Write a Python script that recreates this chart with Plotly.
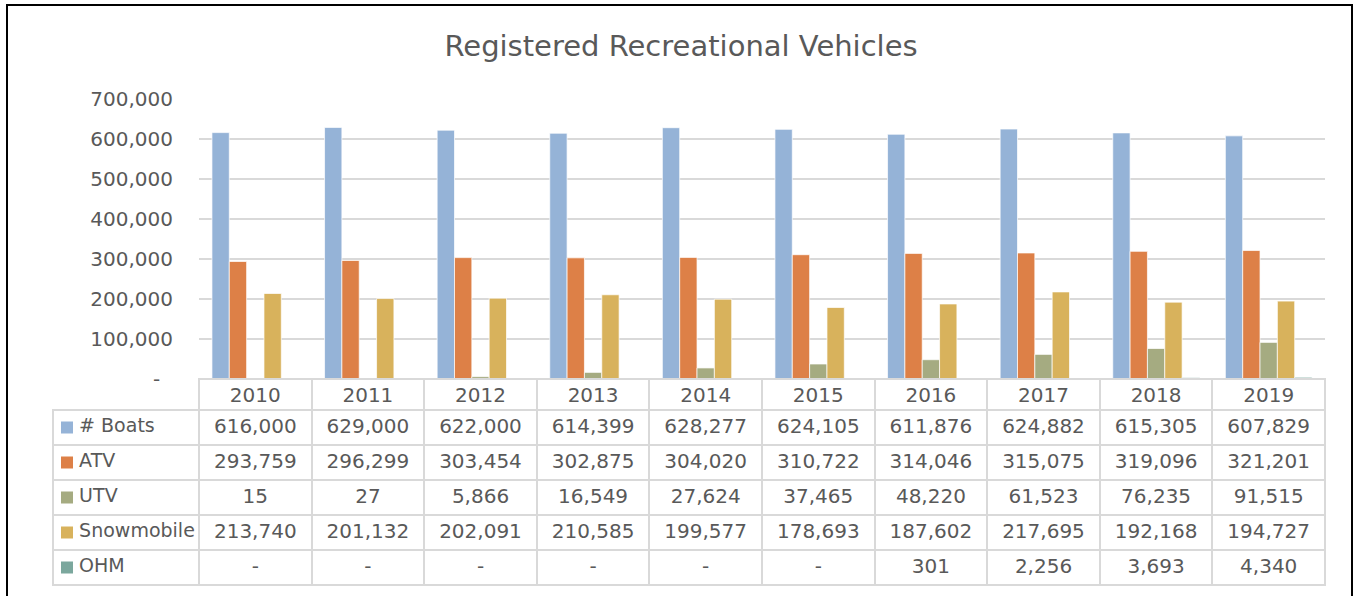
import plotly.graph_objects as go

years = ["2010", "2011", "2012", "2013", "2014", "2015", "2016", "2017", "2018", "2019"]
boats = [616000, 629000, 622000, 614399, 628277, 624105, 611876, 624882, 615305, 607829]
atv = [293759, 296299, 303454, 302875, 304020, 310722, 314046, 315075, 319096, 321201]
utv = [15, 27, 5866, 16549, 27624, 37465, 48220, 61523, 76235, 91515]
snow = [213740, 201132, 202091, 210585, 199577, 178693, 187602, 217695, 192168, 194727]
ohm = [None, None, None, None, None, None, 301, 2256, 3693, 4340]

series_names = ["# Boats", "ATV", "UTV", "Snowmobile", "OHM"]
series_values = [boats, atv, utv, snow, ohm]
series_colors = ["#95B3D7", "#DD8047", "#A5AB81", "#D8B25C", "#7BA79D"]

ytick_vals = [0, 100000, 200000, 300000, 400000, 500000, 600000, 700000]
ytick_text = ["-\u00a0\u00a0"] + [f"{v:,}" for v in ytick_vals[1:]]

W, H = 1354, 596
TEXT = "#595959"
GRID = "#D9D9D9"
FONT = "DejaVu Sans"
NB = "\u00a0"
CLEAR = "rgba(0,0,0,0)"

def px_x(x):
    return x / W

def px_y(y):
    return 1 - y / H

fig = go.Figure()
for name, vals, col in zip(series_names, series_values, series_colors):
    fig.add_trace(go.Bar(
        x=years, y=[v if v is not None else 0 for v in vals], name=name,
        marker=dict(color=col, line=dict(color="rgba(255,255,255,0.7)", width=1)),
        hoverinfo="x+y+name",
    ))

# legend keys drawn in the table's label column (own axis: 1 unit = 1 row, x in pixels)
fig.add_trace(go.Scatter(
    x=[14] * len(series_names), y=list(range(len(series_names))),
    mode="markers", xaxis="x2", yaxis="y2",
    marker=dict(symbol="square", size=12, color=series_colors, line=dict(width=0)),
    hoverinfo="skip", showlegend=False,
))

def fmt(v):
    return "-" if v is None else f"{v:,}"

label_cells = [NB * 3 + n.replace(" ", NB) for n in series_names]
table_cols = [label_cells] + [[fmt(series_values[s][i]) for s in range(5)] for i in range(len(years))]

fig.add_trace(go.Table(
    domain=dict(x=[px_x(53), px_x(1325)], y=[px_y(592), px_y(379)]),
    columnwidth=[146] + [112.6] * len(years),
    header=dict(
        values=[""] + years,
        height=31,
        align="center",
        fill_color=[CLEAR] + ["white"] * len(years),
        line=dict(color=[CLEAR] + [GRID] * len(years), width=2),
        font=dict(family=FONT, size=20, color=TEXT),
    ),
    cells=dict(
        values=table_cols,
        height=35,
        align=["left"] + ["center"] * len(years),
        fill_color=[CLEAR] + ["white"] * len(years),
        line=dict(color=GRID, width=2),
        font=dict(family=FONT, size=[19] + [20] * len(years), color=TEXT),
    ),
))

hidden = dict(showticklabels=False, showgrid=False, showline=False, zeroline=False,
              ticks="", automargin=False, fixedrange=True)

fig.update_layout(
    width=W, height=H,
    margin=dict(l=0, r=0, t=0, b=0, autoexpand=False),
    paper_bgcolor="white", plot_bgcolor="rgba(0,0,0,0)",
    showlegend=False,
    barmode="group", bargap=0.23, bargroupgap=0,
    title=dict(text="Registered Recreational Vehicles", x=0.503, xanchor="center",
               y=px_y(46), yanchor="middle", automargin=False,
               font=dict(family=FONT, size=29, color=TEXT)),
    font=dict(family=FONT, size=20, color=TEXT),
    xaxis=dict(domain=[px_x(199), px_x(1325)], **hidden),
    yaxis=dict(domain=[px_y(379), px_y(99)], range=[0, 700000],
               tickvals=ytick_vals, ticktext=ytick_text,
               showgrid=True, gridcolor=GRID, gridwidth=2, zeroline=False,
               showline=False, ticks="", ticklabelstandoff=25, automargin=False,
               tickfont=dict(family=FONT, size=20, color=TEXT)),
    xaxis2=dict(domain=[px_x(53), px_x(199)], range=[0, 146], anchor="y2", **hidden),
    yaxis2=dict(domain=[px_y(585), px_y(410)], range=[4.5, -0.5], anchor="x2", **hidden),
    shapes=[dict(type="rect", xref="paper", yref="paper",
                 x0=px_x(7), x1=px_x(1352), y0=px_y(605), y1=px_y(5),
                 line=dict(color="black", width=2), fillcolor=CLEAR, layer="above")],
)

fig.write_html("out.html", config={"displayModeBar": False},
               post_script="document.body.style.margin='0';document.body.style.overflow='hidden';")
